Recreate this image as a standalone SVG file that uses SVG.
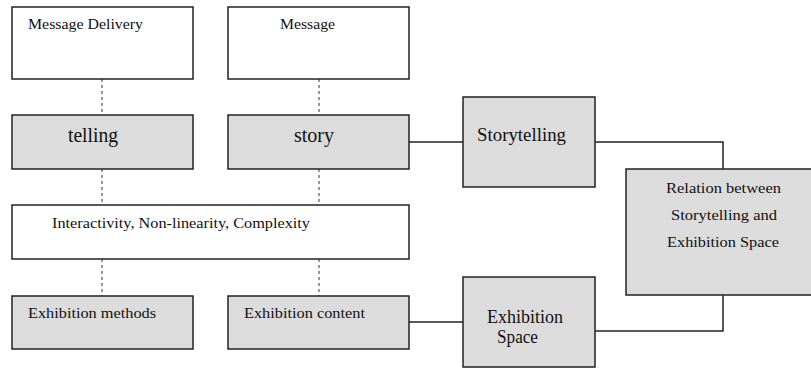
<svg xmlns="http://www.w3.org/2000/svg" width="811" height="369" viewBox="0 0 811 369">
<style>
.w{fill:#fff;stroke:#222;stroke-width:1.5}
.g{fill:#dcdcdc;stroke:#222;stroke-width:1.5}
text{font-family:'Liberation Serif','DejaVu Serif','Times New Roman',serif;fill:#111}
.s{font-size:15.5px}
.m{font-size:18px}
.l{font-size:20px}
.d{stroke:#333;stroke-width:1;stroke-dasharray:3,3;fill:none}
.c{stroke:#222;stroke-width:1.5;fill:none}
</style>
<rect width="811" height="369" fill="#fff"/>
<g id="connectors">
<line class="d" x1="102" y1="79" x2="102" y2="115"/>
<line class="d" x1="319" y1="79" x2="319" y2="115"/>
<line class="d" x1="102" y1="169" x2="102" y2="205"/>
<line class="d" x1="319" y1="169" x2="319" y2="205"/>
<line class="d" x1="102" y1="259" x2="102" y2="296"/>
<line class="d" x1="319" y1="259" x2="319" y2="296"/>
<line class="c" x1="409" y1="142" x2="463" y2="142"/>
<polyline class="c" points="595,142 723,142 723,169"/>
<line class="c" x1="409" y1="322" x2="463" y2="322"/>
<polyline class="c" points="595,331 723,331 723,295"/>
</g>
<g id="message-delivery"><rect class="w" x="12" y="7" width="181" height="72"/><text class="s" x="28" y="29" textLength="115" lengthAdjust="spacingAndGlyphs">Message Delivery</text></g>
<g id="message"><rect class="w" x="228" y="7" width="181" height="72"/><text class="s" x="280" y="29" textLength="55" lengthAdjust="spacingAndGlyphs">Message</text></g>
<g id="telling"><rect class="g" x="12" y="115" width="181" height="54"/><text class="l" x="68" y="142" textLength="50" lengthAdjust="spacingAndGlyphs">telling</text></g>
<g id="story"><rect class="g" x="228" y="115" width="181" height="54"/><text class="l" x="294" y="142" textLength="40" lengthAdjust="spacingAndGlyphs">story</text></g>
<g id="interactivity"><rect class="w" x="12" y="205" width="397" height="54"/><text class="s" x="52" y="228" textLength="258" lengthAdjust="spacingAndGlyphs">Interactivity, Non-linearity, Complexity</text></g>
<g id="exhibition-methods"><rect class="g" x="12" y="296" width="181" height="53"/><text class="s" x="28" y="318" textLength="128" lengthAdjust="spacingAndGlyphs">Exhibition methods</text></g>
<g id="exhibition-content"><rect class="g" x="228" y="296" width="181" height="53"/><text class="s" x="244" y="318" textLength="121" lengthAdjust="spacingAndGlyphs">Exhibition content</text></g>
<g id="storytelling"><rect class="g" x="463" y="97" width="132" height="90"/><text class="m" x="477" y="141" textLength="89" lengthAdjust="spacingAndGlyphs">Storytelling</text></g>
<g id="relation"><rect class="g" x="626" y="169" width="190" height="126"/>
<text class="s" x="666" y="193" textLength="115" lengthAdjust="spacingAndGlyphs">Relation between</text>
<text class="s" x="671" y="220" textLength="106" lengthAdjust="spacingAndGlyphs">Storytelling and</text>
<text class="s" x="667" y="247" textLength="112" lengthAdjust="spacingAndGlyphs">Exhibition Space</text></g>
<g id="exhibition-space"><rect class="g" x="463" y="277" width="132" height="90"/><text class="m" x="487" y="323" textLength="76" lengthAdjust="spacingAndGlyphs">Exhibition</text><text class="m" x="497" y="343" textLength="41" lengthAdjust="spacingAndGlyphs">Space</text></g>
</svg>
